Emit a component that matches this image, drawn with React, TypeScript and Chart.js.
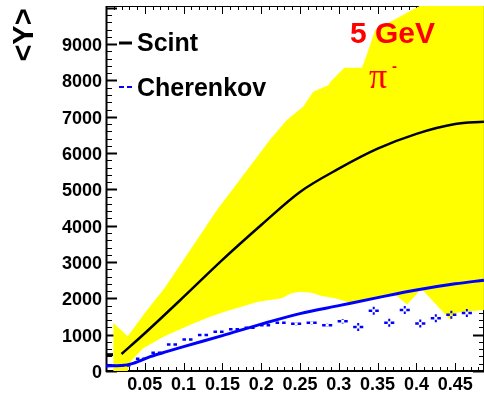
import React, { useEffect, useRef } from 'react';
import { Chart, registerables } from 'chart.js';

Chart.register(...registerables);

// ---- data ----
const xTickLabels = ['0.05', '0.1', '0.15', '0.2', '0.25', '0.3', '0.35', '0.4', '0.45'];
const yTickLabels = ['0', '1000', '2000', '3000', '4000', '5000', '6000', '7000', '8000', '9000'];

const scintX = [0.02, 0.05, 0.1, 0.15, 0.2, 0.25, 0.3, 0.35, 0.4, 0.45, 0.487];
const scintY = [468, 1040, 2040, 3060, 4020, 4930, 5570, 6120, 6530, 6800, 6865];

const scintFirstX = [0.001, 0.009];
const scintFirstY = [450, 450];

const cherLineX = [0, 0.02, 0.035, 0.057, 0.078, 0.1, 0.15, 0.2, 0.25, 0.3, 0.35, 0.4, 0.45, 0.487];
const cherLineY = [140, 150, 211, 394, 532, 670, 975, 1290, 1580, 1800, 2020, 2230, 2400, 2500];

const cherPtX = [0.005, 0.025, 0.045, 0.065, 0.085, 0.105, 0.125, 0.145, 0.165, 0.185, 0.205, 0.225, 0.245, 0.265, 0.285, 0.305, 0.325, 0.345, 0.365, 0.385, 0.405, 0.425, 0.445, 0.465];
const cherPtY = [145, 150, 340, 505, 730, 870, 990, 1080, 1150, 1190, 1260, 1330, 1300, 1330, 1260, 1370, 1210, 1660, 1330, 1680, 1310, 1450, 1550, 1600];
const cherPtYErr = [0, 0, 0, 20, 20, 20, 20, 20, 20, 20, 30, 30, 50, 50, 50, 60, 110, 110, 110, 110, 110, 110, 110, 110];
const cherPtXErr = 0.0065;

const bandUpX = [0.0095, 0.028, 0.05, 0.076, 0.11, 0.143, 0.17, 0.198, 0.211, 0.233, 0.254, 0.267, 0.2865, 0.289, 0.307, 0.3295, 0.333, 0.347, 0.405, 0.42, 0.487];
const bandUpY = [1320, 960, 1600, 2300, 3380, 4430, 5200, 5990, 6360, 6910, 7275, 7690, 7870, 7960, 8350, 8350, 8520, 9390, 10060, 10400, 10400];
const bandLoX = [0.0095, 0.028, 0.031, 0.048, 0.074, 0.108, 0.134, 0.153, 0.196, 0.226, 0.239, 0.25, 0.265, 0.278, 0.295, 0.317, 0.335, 0.355, 0.372, 0.388, 0.405, 0.409, 0.444, 0.449, 0.46, 0.487];
const bandLoY = [0, 0, 250, 624, 945, 1266, 1495, 1633, 1908, 2000, 2140, 2183, 2155, 2064, 2000, 1870, 1950, 2040, 2110, 1830, 2230, 2200, 1404, 1590, 1633, 1680];

const X_MIN = 0;
const X_MAX = 0.4871;
const Y_MIN = 0;
const Y_MAX = 10050;

const FONT = '"Liberation Sans", Arial, Helvetica, sans-serif';

const zip = (xs: number[], ys: number[]) => xs.map((x, i) => ({ x, y: ys[i] }));

const rootPlugin = {
  id: 'rootStyle',
  beforeDatasetsDraw(chart: any) {
    const { ctx, chartArea: a, scales } = chart;
    const xs = scales.x;
    const ys = scales.y;
    ctx.save();
    ctx.strokeStyle = '#000';
    const seg = (x1: number, y1: number, x2: number, y2: number) => {
      ctx.beginPath();
      ctx.moveTo(x1, y1);
      ctx.lineTo(x2, y2);
      ctx.stroke();
    };
    // y ticks (left and right)
    for (let v = 0; v <= 10000; v += 200) {
      const major = v % 1000 === 0;
      const y = Math.round(ys.getPixelForValue(v)) + 0.5;
      ctx.lineWidth = major ? 2 : 1;
      seg(a.left, y, a.left + (major ? 11 : 6), y);
      seg(a.right, y, a.right - (major ? 11 : 5), y);
    }
    // x ticks (bottom and top)
    for (let i = 1; i <= 48; i++) {
      const v = i / 100;
      const major = i % 5 === 0;
      const x = Math.round(xs.getPixelForValue(v)) + 0.5;
      ctx.lineWidth = 1;
      seg(x, a.bottom, x, a.bottom - (major ? 8 : 4));
      seg(x, a.top, x, a.top + (major ? 8 : 4));
    }
    // frame
    ctx.lineWidth = 2;
    seg(a.left + 0.5, a.top, a.left + 0.5, a.bottom + 1);
    seg(a.left, a.bottom, a.right, a.bottom);
    ctx.lineWidth = 1;
    seg(a.left, a.top + 0.5, a.right, a.top + 0.5);
    seg(a.right - 0.5, a.top, a.right - 0.5, a.bottom);

    // tick labels
    ctx.fillStyle = '#000';
    ctx.font = `bold 18px ${FONT}`;
    ctx.textAlign = 'right';
    ctx.textBaseline = 'alphabetic';
    yTickLabels.forEach((t) => {
      const y = ys.getPixelForValue(parseFloat(t));
      ctx.fillText(t, a.left - 4, y + 7);
    });
    ctx.textAlign = 'center';
    xTickLabels.forEach((t) => {
      const x = xs.getPixelForValue(parseFloat(t));
      ctx.fillText(t, x, a.bottom + 19);
    });
    // y title
    ctx.save();
    ctx.translate(33, 35);
    ctx.rotate(-Math.PI / 2);
    ctx.font = `bold 29px ${FONT}`;
    ctx.textAlign = 'center';
    ctx.textBaseline = 'alphabetic';
    ctx.fillText('<Y>', 0, 0);
    ctx.restore();
    ctx.restore();
  },
  afterDatasetsDraw(chart: any) {
    const { ctx, chartArea: a, scales } = chart;
    const xs = scales.x;
    const ys = scales.y;
    ctx.save();
    ctx.beginPath();
    ctx.rect(a.left, a.top, a.right - a.left, a.bottom - a.top);
    ctx.clip();
    // Cherenkov error bars
    ctx.strokeStyle = '#0000ff';
    ctx.lineWidth = 2.5;
    const gap = 1.5;
    cherPtX.forEach((xv, i) => {
      const px = xs.getPixelForValue(xv);
      const py = ys.getPixelForValue(cherPtY[i]);
      const xl = xs.getPixelForValue(xv - cherPtXErr);
      const xr = xs.getPixelForValue(xv + cherPtXErr);
      ctx.beginPath();
      ctx.moveTo(xl, py);
      ctx.lineTo(px - gap, py);
      ctx.moveTo(px + gap, py);
      ctx.lineTo(xr, py);
      ctx.stroke();
      const e = cherPtYErr[i];
      if (e > 0) {
        const yt = ys.getPixelForValue(cherPtY[i] + e);
        const yb = ys.getPixelForValue(cherPtY[i] - e);
        if (py - yt > gap) {
          ctx.lineWidth = 2;
          ctx.beginPath();
          ctx.moveTo(px, yt);
          ctx.lineTo(px, py - gap);
          ctx.moveTo(px, py + gap);
          ctx.lineTo(px, yb);
          ctx.stroke();
          ctx.lineWidth = 2.5;
        }
      }
    });
    ctx.restore();

    // legend
    ctx.save();
    ctx.strokeStyle = '#000';
    ctx.lineWidth = 3;
    ctx.beginPath();
    ctx.moveTo(119, 43);
    ctx.lineTo(132, 43);
    ctx.stroke();
    ctx.strokeStyle = '#0000ff';
    ctx.lineWidth = 2;
    ctx.beginPath();
    ctx.moveTo(119, 87);
    ctx.lineTo(124, 87);
    ctx.moveTo(127, 87);
    ctx.lineTo(132, 87);
    ctx.stroke();
    ctx.fillStyle = '#000';
    ctx.font = `bold 25px ${FONT}`;
    ctx.textAlign = 'left';
    ctx.textBaseline = 'alphabetic';
    ctx.fillText('Scint', 137, 51);
    ctx.fillText('Cherenkov', 137, 96);

    // annotation
    ctx.fillStyle = '#ff0000';
    ctx.font = `bold 30px ${FONT}`;
    ctx.fillText('5 GeV', 350, 43);
    ctx.font = `36px "Liberation Serif", "DejaVu Serif", serif`;
    ctx.fillText('π', 369, 88);
    ctx.font = `bold 15px ${FONT}`;
    ctx.fillText('-', 392, 71);
    ctx.restore();
  },
};

export default function App() {
  const ref = useRef<HTMLCanvasElement | null>(null);
  useEffect(() => {
    if (!ref.current) return;
    const bandShape = [...zip(bandUpX, bandUpY), ...zip(bandLoX, bandLoY).reverse()];
    const chart = new Chart(ref.current, {
      type: 'line',
      data: {
        datasets: [
          {
            label: 'band',
            data: bandShape,
            borderWidth: 0,
            borderColor: 'rgba(0,0,0,0)',
            backgroundColor: '#ffff00',
            fill: 'shape',
            pointRadius: 0,
            tension: 0,
            order: 5,
          } as any,
          {
            label: 'Cherenkov fit',
            data: zip(cherLineX, cherLineY),
            borderColor: '#0000ff',
            borderWidth: 3,
            pointRadius: 0,
            fill: false,
            cubicInterpolationMode: 'monotone',
            order: 3,
          },
          {
            label: 'Scint first',
            data: zip(scintFirstX, scintFirstY),
            borderColor: '#000000',
            borderWidth: 3,
            pointRadius: 0,
            fill: false,
            order: 2,
          },
          {
            label: 'Scint',
            data: zip(scintX, scintY),
            borderColor: '#000000',
            borderWidth: 2.5,
            pointRadius: 0,
            fill: false,
            cubicInterpolationMode: 'monotone',
            order: 1,
          },
          {
            label: 'Cherenkov',
            data: zip(cherPtX, cherPtY),
            showLine: false,
            pointRadius: 0,
            borderColor: '#0000ff',
            order: 0,
          },
        ],
      },
      options: {
        animation: false,
        responsive: false,
        devicePixelRatio: 1,
        layout: { padding: { left: 106, top: 6, right: 0, bottom: 23 } },
        plugins: { legend: { display: false }, tooltip: { enabled: false } },
        scales: {
          x: { type: 'linear', min: X_MIN, max: X_MAX, display: false },
          y: { type: 'linear', min: Y_MIN, max: Y_MAX, display: false },
        },
      },
      plugins: [rootPlugin],
    });
    return () => chart.destroy();
  }, []);
  return (
    <div style={{ position: 'absolute', left: 0, top: 0, width: 484, height: 394, background: '#fff' }}>
      <canvas ref={ref} width={484} height={394} style={{ width: 484, height: 394, display: 'block' }} />
    </div>
  );
}
